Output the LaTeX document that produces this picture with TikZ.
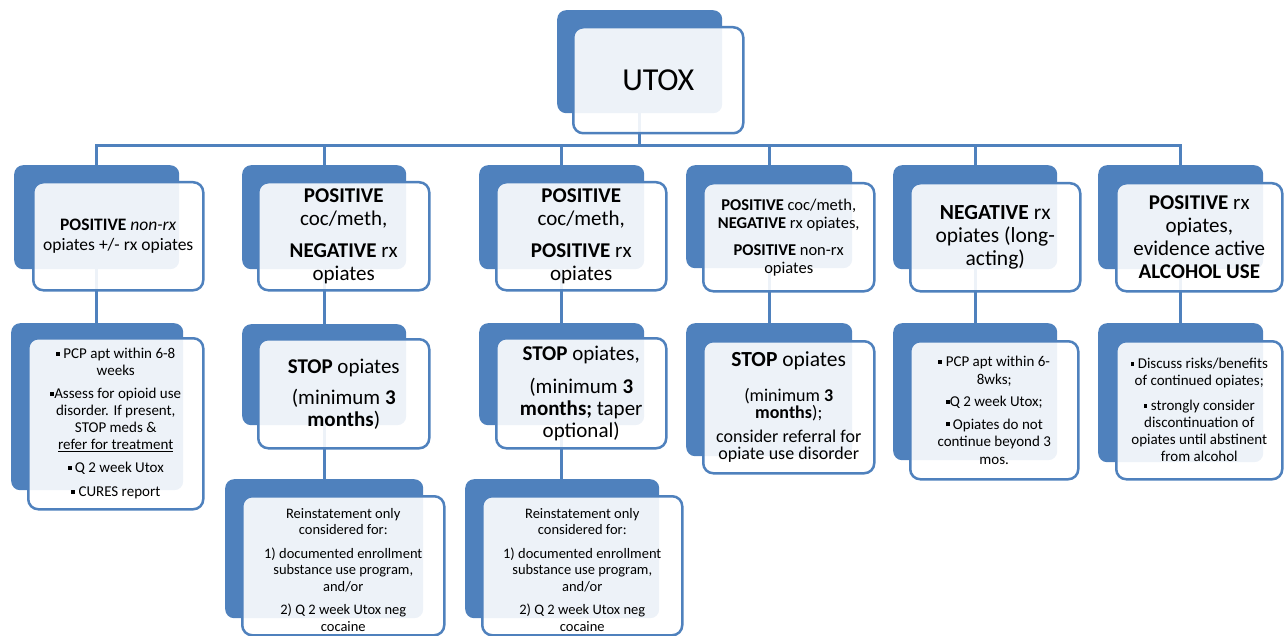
\documentclass[tikz,border=0pt]{standalone}
\usepackage{fontspec}
\setmainfont{Carlito}
\definecolor{accent}{HTML}{4F81BD}
\pgfdeclarelayer{bg}
\pgfsetlayers{bg,main}
\newcommand\sqb{\raisebox{0.2em}{\rule{0.26em}{0.26em}}}
\tikzset{
 backbox/.style 2 args={fill=accent, rounded corners=9pt, inner sep=0pt, anchor=north west, minimum width=#1pt, minimum height=#2pt},
 frontbox/.style 2 args={draw=accent, line width=2.5pt, fill=white, fill opacity=0.9, text opacity=1, rounded corners=10pt, inner sep=0pt, align=center, anchor=north west, minimum width=#1pt, minimum height=#2pt},
 boxtext/.style={align=center, inner sep=0pt},
 conn/.style={draw=accent, line width=3pt},
 fs/.style 2 args={font=\fontsize{#1}{#2}\selectfont},
}
\begin{document}
\begin{tikzpicture}[x=1pt,y=-1pt]
\useasboundingbox (0,0) rectangle (1284,636);
% root
\node[backbox={165}{103}] (ub) at (557,10) {};
\node[frontbox={170}{106}, fs={32}{36}] (uf) at (572,26) {UTOX};
% headers
\node[backbox={165}{104}] (h1b) at (14,165) {};
\node[frontbox={170}{108}, fs={17.5}{19.5}] (h1f) at (32,181) {\textbf{POSITIVE} \textit{non-rx}\\opiates +/- rx opiates};
\node[backbox={164}{104}] (h2b) at (242,165) {};
\node[frontbox={171}{108}, fs={21}{23}] (h2f) at (257,181) {\textbf{POSITIVE}\\coc/meth,\\[9pt]\textbf{NEGATIVE} rx\\opiates};
\node[backbox={165}{104}] (h3b) at (479,165) {};
\node[frontbox={170}{108}, fs={21}{23}] (h3f) at (495,181) {\textbf{POSITIVE}\\coc/meth,\\[9pt]\textbf{POSITIVE} rx\\opiates};
\node[backbox={166}{103}] (h4b) at (686,165) {};
\node[frontbox={171}{108}, fs={16.5}{18}] (h4f) at (702,182) {\textbf{POSITIVE} coc/meth,\\\textbf{NEGATIVE} rx opiates,\\[9pt]\textbf{POSITIVE} non-rx\\opiates};
\node[backbox={164}{104}] (h5b) at (893,165) {};
\node[frontbox={170}{108}, fs={21.5}{23}] (h5f) at (909,182) {\textbf{NEGATIVE} rx\\opiates (long-\\acting)};
\node[backbox={165}{104}] (h6b) at (1098,165) {};
\node[frontbox={166}{108}, fs={21}{23}] (h6f) at (1115,182) {\textbf{POSITIVE} rx\\opiates,\\evidence active\\\textbf{ALCOHOL USE}};
% second row
\node[backbox={172}{167}] (r1b) at (11,323) {};
\node[frontbox={175}{171}, fs={15}{17}] (r1f) at (27,337) {\sqb{} PCP apt within 6-8\\weeks\\[6pt]\sqb Assess for opioid use\\disorder. If present,\\STOP meds \&\\\underline{refer for treatment}\\[6pt]\sqb{} Q 2 week Utox\\[7pt]\sqb{} CURES report};
\node[backbox={164}{101}] (r2b) at (242,324) {};
\node[frontbox={171}{109}, fs={21}{22}] (r2f) at (257,338) {\textbf{STOP} opiates\\[9pt](minimum \textbf{3}\\\textbf{months})};
\node[backbox={165}{102}] (r3b) at (479,323) {};
\node[frontbox={170}{110}, fs={21}{22}] (r3f) at (495,337) {\textbf{STOP} opiates,\\[11pt](minimum \textbf{3}\\\textbf{months;} taper\\optional)};
\node[backbox={166}{133}] (r4b) at (686,323) {};
\node[frontbox={171}{132}, fs={18}{17.5}] (r4f) at (702,340) {{\fontsize{21.5}{23}\selectfont\textbf{STOP} opiates}\\[17pt](minimum \textbf{3}\\\textbf{months});\\[6pt]consider referral for\\opiate use disorder};
\node[backbox={164}{137}] (r5b) at (893,323) {};
\node[frontbox={168}{138}, fs={15}{17.5}] (r5f) at (909,340) {\sqb{} PCP apt within 6-\\8wks;\\[5pt]\sqb Q 2 week Utox;\\[5pt]\sqb{} Opiates do not\\continue beyond 3\\mos.};
\node[backbox={165}{139}] (r6b) at (1098,323) {};
\node[frontbox={166}{138}, fs={15}{17}] (r6f) at (1115,340) {\sqb{} Discuss risks/benefits\\of continued opiates;\\[8pt]\sqb{} strongly consider\\discontinuation of\\opiates until abstinent\\from alcohol};
% third row
\node[backbox={198}{139}] (s2b) at (225,479) {};
\node[frontbox={202}{139}] (s2f) at (241,495) {};
\node[boxtext, fs={14.5}{16.5}, yshift=-4pt] (s2t) at (s2f.center) {Reinstatement only\\considered for:\\[7pt]1) documented enrollment\\substance use program,\\and/or\\[7pt]2) Q 2 week Utox neg\\cocaine};
\node[backbox={194}{139}] (s3b) at (465,479) {};
\node[frontbox={200}{139}] (s3f) at (481,495) {};
\node[boxtext, fs={14.5}{16.5}, yshift=-4pt] (s3t) at (s3f.center) {Reinstatement only\\considered for:\\[7pt]1) documented enrollment\\substance use program,\\and/or\\[7pt]2) Q 2 week Utox neg\\cocaine};
% connectors
\begin{pgfonlayer}{bg}
\coordinate (busy) at (0,146);
\draw[conn] (h1b.center) -- (h1b.center |- busy) -- (h6b.center |- busy) -- (h6b.center);
\draw[conn] (ub.center) -- (ub.center |- busy);
\foreach \n in {h2b,h3b,h4b,h5b} \draw[conn] (\n.center) -- (\n.center |- busy);
\draw[conn] (h1b.center) -- (h1b.center |- r1b.north);
\draw[conn] (h2b.center) -- (h2b.center |- r2b.north);
\draw[conn] (h3b.center) -- (h3b.center |- r3b.north);
\draw[conn] (h4b.center) -- (h4b.center |- r4b.north);
\draw[conn] (h5b.center) -- (h5b.center |- r5b.north);
\draw[conn] (h6b.center) -- (h6b.center |- r6b.north);
\draw[conn] (r2b.center) -- (r2b.center |- s2b.north);
\draw[conn] (r3b.center) -- (r3b.center |- s3b.north);
\end{pgfonlayer}
\end{tikzpicture}
\end{document}
